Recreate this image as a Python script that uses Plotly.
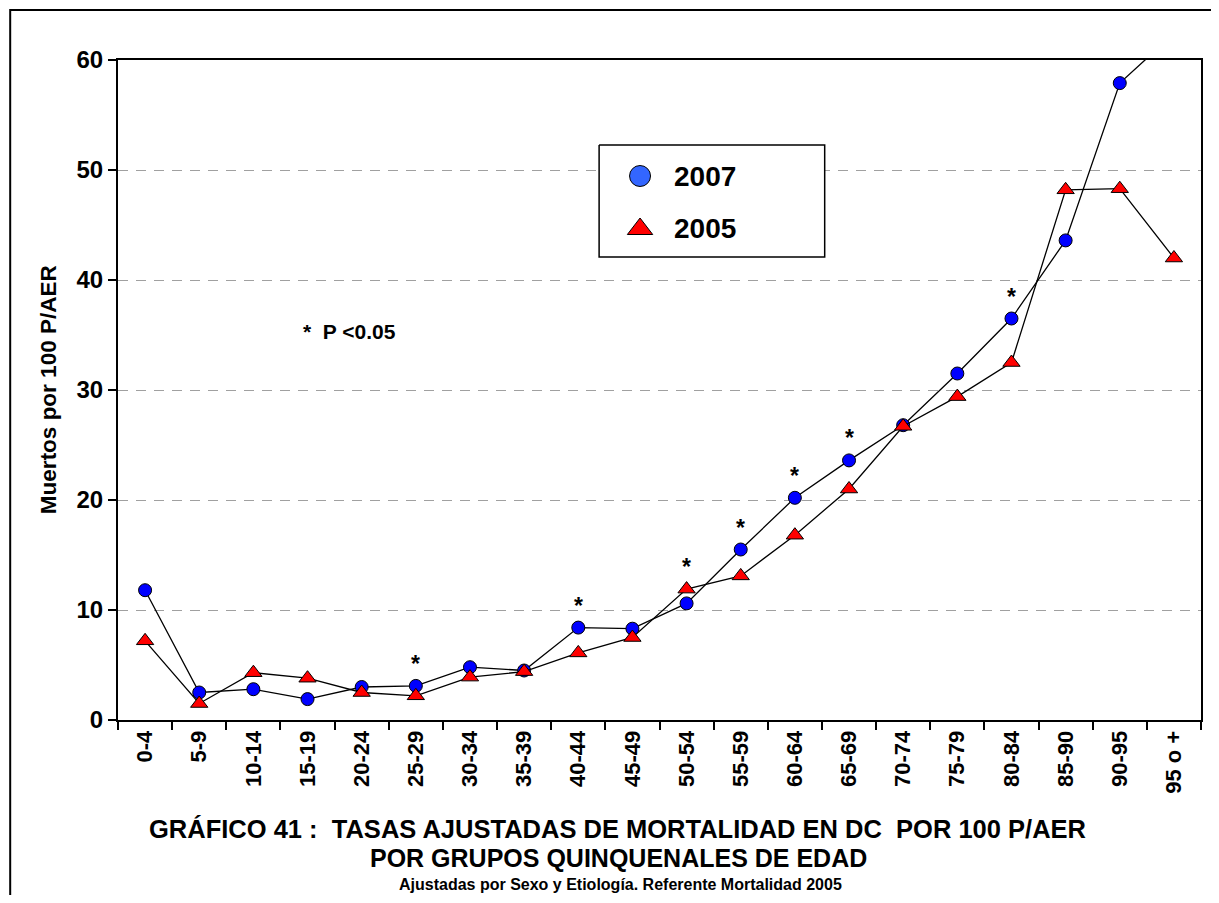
import plotly.graph_objects as go

categories = ["0-4", "5-9", "10-14", "15-19", "20-24", "25-29", "30-34", "35-39",
              "40-44", "45-49", "50-54", "55-59", "60-64", "65-69", "70-74",
              "75-79", "80-84", "85-90", "90-95", "95 o +"]
rate_2007 = [11.8, 2.5, 2.8, 1.9, 3.0, 3.1, 4.8, 4.5, 8.4, 8.3, 10.6, 15.5,
             20.2, 23.6, 26.8, 31.5, 36.5, 43.6, 57.9, 62.4]
rate_2005 = [7.2, 1.5, 4.3, 3.8, 2.5, 2.2, 3.9, 4.4, 6.1, 7.5, 11.9, 13.1,
             16.8, 21.0, 26.7, 29.4, 32.5, 48.2, 48.3, 42.0]
significant = ["25-29", "40-44", "50-54", "55-59", "60-64", "65-69", "80-84"]
y_ticks = [0, 10, 20, 30, 40, 50, 60]
series_names = ["2007", "2005"]

# page offset caused by the default body margin of the html page
OFF = 8
W, H = 1203, 887
# plot area in page pixels
PL, PR, PT, PB = 118, 1203, 60, 720
ML, MT = PL - OFF, PT - OFF
MR = W - (PR - OFF)
MB = H - (PB - OFF)
PW, PH = PR - PL, PB - PT


def px(x):
    return (x - PL) / PW


def py(y):
    return (PB - y) / PH


FONT = "Liberation Sans, Arial, sans-serif"

fig = go.Figure()
fig.add_trace(go.Scatter(
    x=categories, y=rate_2007, mode="lines+markers", name=series_names[0],
    showlegend=False,
    line=dict(color="black", width=1.3),
    marker=dict(symbol="circle", size=13, color="#0000FF",
                line=dict(color="black", width=1)),
))
fig.add_trace(go.Scatter(
    x=categories, y=rate_2005, mode="lines+markers", name=series_names[1],
    showlegend=False,
    line=dict(color="black", width=1.3),
    marker=dict(symbol="triangle-up", size=15, color="#FF0000",
                line=dict(color="black", width=1)),
))

# manual legend box (page-pixel overlay axes)
fig.add_trace(go.Scatter(
    x=[600, 826, 826, 600, 600], y=[145, 145, 257, 257, 145], xaxis="x2", yaxis="y2",
    mode="lines", fill="toself", fillcolor="white", showlegend=False, hoverinfo="skip",
    line=dict(color="black", width=1.5),
))
fig.add_trace(go.Scatter(
    x=[641], y=[176], xaxis="x2", yaxis="y2", mode="markers", showlegend=False,
    hoverinfo="skip",
    marker=dict(symbol="circle", size=21, color="#3366FF", line=dict(color="black", width=1)),
))
fig.add_trace(go.Scatter(
    x=[641], y=[229], xaxis="x2", yaxis="y2", mode="markers", showlegend=False,
    hoverinfo="skip",
    marker=dict(symbol="triangle-up", size=22, color="#FF0000", line=dict(color="black", width=1)),
))

annotations = []
for c in significant:
    i = categories.index(c)
    top = max(rate_2007[i], rate_2005[i])
    annotations.append(dict(x=c, y=top, xref="x", yref="y", text="<b>*</b>",
                            showarrow=False, yshift=22,
                            font=dict(size=23, color="black", family=FONT)))

annotations += [
    dict(x=673, y=176, xref="x2", yref="y2", xanchor="left", yanchor="middle",
         text=f"<b>{series_names[0]}</b>", showarrow=False,
         font=dict(size=28, color="black", family=FONT)),
    dict(x=673, y=228, xref="x2", yref="y2", xanchor="left", yanchor="middle",
         text=f"<b>{series_names[1]}</b>", showarrow=False,
         font=dict(size=28, color="black", family=FONT)),
    dict(x=px(301), y=py(331), xref="paper", yref="paper", xanchor="left",
         yanchor="middle", text="<b>*  P &lt;0.05</b>", showarrow=False,
         font=dict(size=21, color="black", family=FONT)),
    dict(x=px(48), y=py(390), xref="paper", yref="paper", xanchor="center", yanchor="middle",
         text="<b>Muertos por 100 P/AER</b>",
         textangle=-90, showarrow=False, font=dict(size=22.5, color="black", family=FONT)),
    dict(x=px(618), y=py(829), xref="paper", yref="paper", xanchor="center", yanchor="middle",
         text="<b>GRÁFICO 41 :  TASAS AJUSTADAS DE MORTALIDAD EN DC  POR 100 P/AER</b>",
         showarrow=False, font=dict(size=25.5, color="black", family=FONT)),
    dict(x=px(619), y=py(858), xref="paper", yref="paper", xanchor="center", yanchor="middle",
         text="<b>POR GRUPOS QUINQUENALES DE EDAD</b>",
         showarrow=False, font=dict(size=25, color="black", family=FONT)),
    dict(x=px(621), y=py(884), xref="paper", yref="paper", xanchor="center", yanchor="middle",
         text="<b>Ajustadas por Sexo y Etiología. Referente Mortalidad 2005</b>",
         showarrow=False, font=dict(size=16, color="black", family=FONT)),
]

shapes = [
    dict(type="rect", xref="paper", yref="paper", x0=px(10), x1=px(1300),
         y0=py(960), y1=py(10), line=dict(color="black", width=2),
         fillcolor="rgba(0,0,0,0)", layer="below"),
]

fig.update_layout(
    width=W, height=H,
    margin=dict(l=ML, r=MR, t=MT, b=MB),
    paper_bgcolor="white", plot_bgcolor="white",
    showlegend=False,
    xaxis=dict(type="category", categoryorder="array", categoryarray=categories,
               range=[-0.5, len(categories) - 0.5], tickson="boundaries",
               ticks="outside", ticklen=8, tickcolor="black", tickwidth=1.5,
               showline=True, linecolor="black", linewidth=2, mirror=True,
               showgrid=False, tickangle=-90,
               tickvals=categories, ticktext=[f"<b>{c}</b>" for c in categories],
               tickfont=dict(size=22, color="black", family=FONT)),
    yaxis=dict(range=[0, 60], tickvals=y_ticks, ticktext=[f"<b>{v}</b>" for v in y_ticks],
               ticks="outside", ticklen=8, tickcolor="black", tickwidth=1.5,
               showline=True, linecolor="black", linewidth=2, mirror=True,
               showgrid=True, gridcolor="#A0A0A0", griddash="10px,8px", gridwidth=1.3,
               zeroline=False,
               tickfont=dict(size=24, color="black", family=FONT)),
    xaxis2=dict(overlaying="x", range=[PL, PR], visible=False, fixedrange=True),
    yaxis2=dict(overlaying="y", range=[PB, PT], visible=False, fixedrange=True),
    annotations=annotations,
    shapes=shapes,
    font=dict(family=FONT, color="black"),
)

fig.write_html("out.html")
